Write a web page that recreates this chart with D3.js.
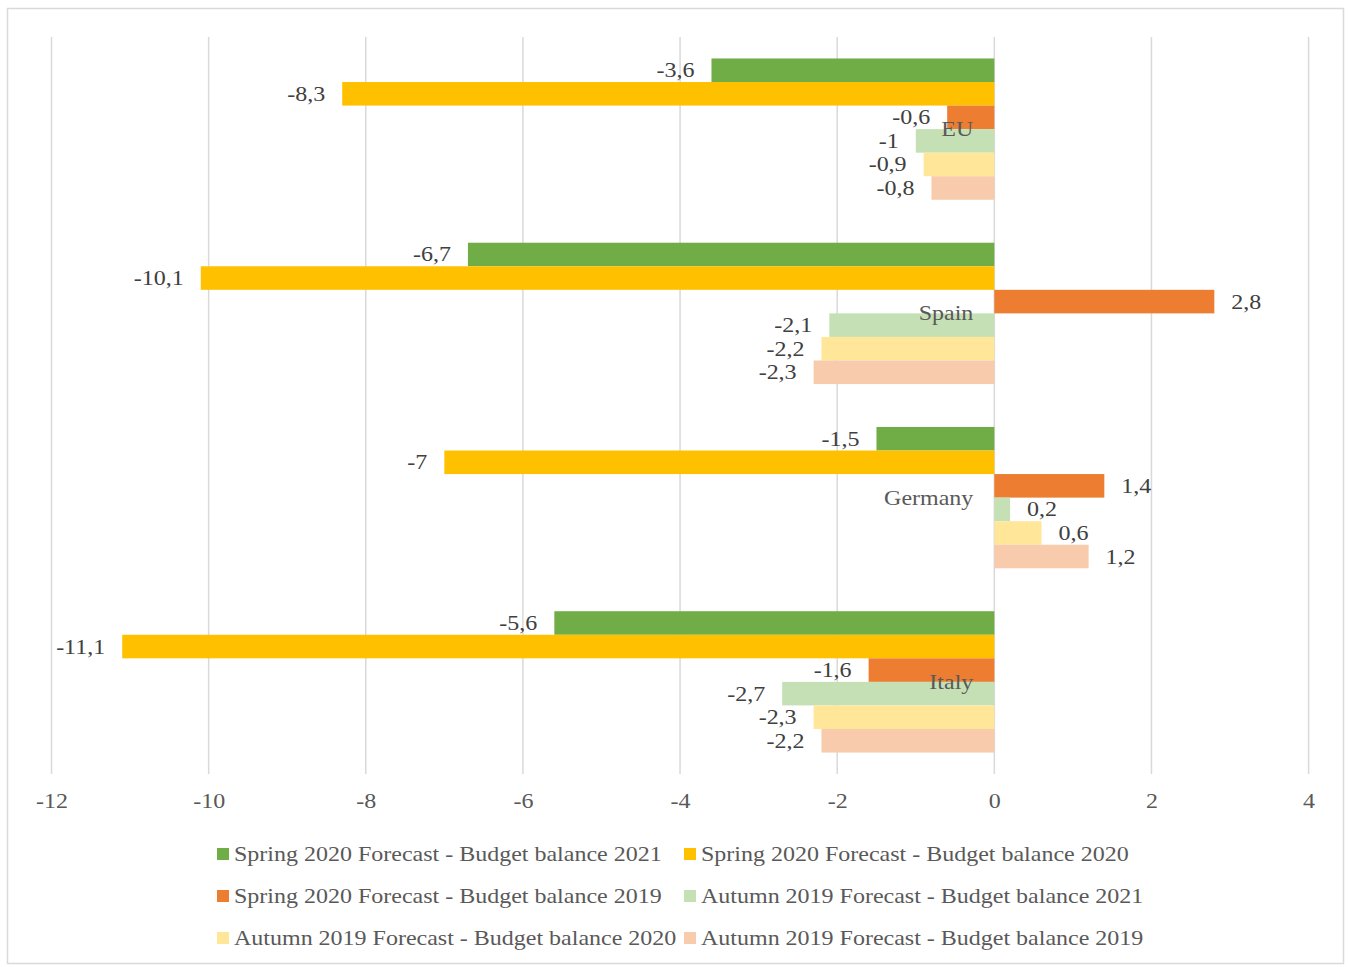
<!DOCTYPE html>
<html>
<head>
<meta charset="utf-8">
<script src="https://cdn.jsdelivr.net/npm/d3@7"></script>
<style>
html,body{margin:0;padding:0;background:#fff;}
svg{display:block;font-family:"Liberation Serif","Times New Roman",serif;}
</style>
</head>
<body>
<svg id="chart" width="1348" height="967"></svg>
<script>
const categories = ["EU", "Spain", "Germany", "Italy"];
const seriesNames = [
  "Spring 2020 Forecast - Budget balance 2021",
  "Spring 2020 Forecast - Budget balance 2020",
  "Spring 2020 Forecast - Budget balance 2019",
  "Autumn 2019 Forecast - Budget balance 2021",
  "Autumn 2019 Forecast - Budget balance 2020",
  "Autumn 2019 Forecast - Budget balance 2019"
];
const spring2021 = [-3.6, -6.7, -1.5, -5.6];
const spring2020 = [-8.3, -10.1, -7, -11.1];
const spring2019 = [-0.6, 2.8, 1.4, -1.6];
const autumn2021 = [-1, -2.1, 0.2, -2.7];
const autumn2020 = [-0.9, -2.2, 0.6, -2.3];
const autumn2019 = [-0.8, -2.3, 1.2, -2.2];
const seriesValues = [spring2021, spring2020, spring2019, autumn2021, autumn2020, autumn2019];
const colors = ["#70AD47", "#FFC000", "#ED7D31", "#C5E0B4", "#FFE699", "#F8CBAD"];
const xTicks = [-12, -10, -8, -6, -4, -2, 0, 2, 4];

const SX = 1.2; // horizontal stretch of text seen in the reference
const svg = d3.select("#chart");
svg.append("rect").attr("x", 7.5).attr("y", 8.5).attr("width", 1336).attr("height", 955)
  .attr("fill", "#fff").attr("stroke", "#d9d9d9").attr("stroke-width", 1.5);

const x = d3.scaleLinear().domain([-12, 4]).range([51.5, 1308.6]);
const y = d3.scaleBand().domain(categories).range([37, 774]).paddingInner(0.233).paddingOuter(0.1165);
const ys = d3.scaleBand().domain(d3.range(seriesNames.length)).range([0, y.bandwidth()]).padding(0);

const fmt = v => String(v).replace(".", ",");

// gridlines
svg.append("g").selectAll("line").data(xTicks).join("line")
  .attr("x1", d => x(d)).attr("x2", d => x(d))
  .attr("y1", 37).attr("y2", 774)
  .attr("stroke", "#d9d9d9").attr("stroke-width", 1.5);

// x axis labels via d3 axis
const xAxis = d3.axisBottom(x).tickValues(xTicks).tickSize(0).tickPadding(0).tickFormat(d => String(d));
const gx = svg.append("g").attr("transform", "translate(0,794)").call(xAxis);
gx.select(".domain").remove();
gx.selectAll("text").attr("fill", "#595959").attr("font-size", "20px")
  .attr("font-family", "Liberation Serif, serif").attr("dy", "0.72em")
  .attr("transform", `scale(${SX},1)`);

// bars
const groups = svg.append("g").selectAll("g").data(categories).join("g")
  .attr("transform", d => `translate(0,${y(d)})`);

seriesValues.forEach((vals, si) => {
  groups.append("rect")
    .attr("x", (d, i) => x(Math.min(0, vals[i])))
    .attr("y", ys(si))
    .attr("width", (d, i) => Math.abs(x(vals[i]) - x(0)))
    .attr("height", ys.bandwidth())
    .attr("fill", colors[si]);
});

// data labels
seriesValues.forEach((vals, si) => {
  groups.append("text")
    .attr("transform", (d, i) => {
      const tx = vals[i] < 0 ? x(vals[i]) - 17 : x(vals[i]) + 17;
      return `translate(${tx},${ys(si) + ys.bandwidth() / 2}) scale(${SX},1)`;
    })
    .attr("dy", "0.35em")
    .attr("text-anchor", (d, i) => vals[i] < 0 ? "end" : "start")
    .attr("font-size", "20px")
    .attr("fill", "#404040")
    .text((d, i) => fmt(vals[i]));
});

// category labels
svg.append("g").selectAll("text").data(categories).join("text")
  .attr("transform", d => `translate(${x(0) - 21},${y(d) + y.bandwidth() / 2}) scale(${SX},1)`)
  .attr("dy", "0.35em")
  .attr("text-anchor", "end")
  .attr("font-size", "20px")
  .attr("fill", "#595959")
  .text(d => d);

// legend
const legendCols = [217, 684];
const legendRows = [854, 896, 938];
const lg = svg.append("g").selectAll("g").data(seriesNames).join("g")
  .attr("transform", (d, i) => `translate(${legendCols[i % 2]},${legendRows[Math.floor(i / 2)]})`);
lg.append("rect").attr("x", 0).attr("y", -6).attr("width", 12).attr("height", 12)
  .attr("fill", (d, i) => colors[i]);
lg.append("text").attr("transform", `translate(17,0) scale(${SX},1)`).attr("dy", "0.35em")
  .attr("font-size", "20px").attr("fill", "#595959").text(d => d);
</script>
</body>
</html>
